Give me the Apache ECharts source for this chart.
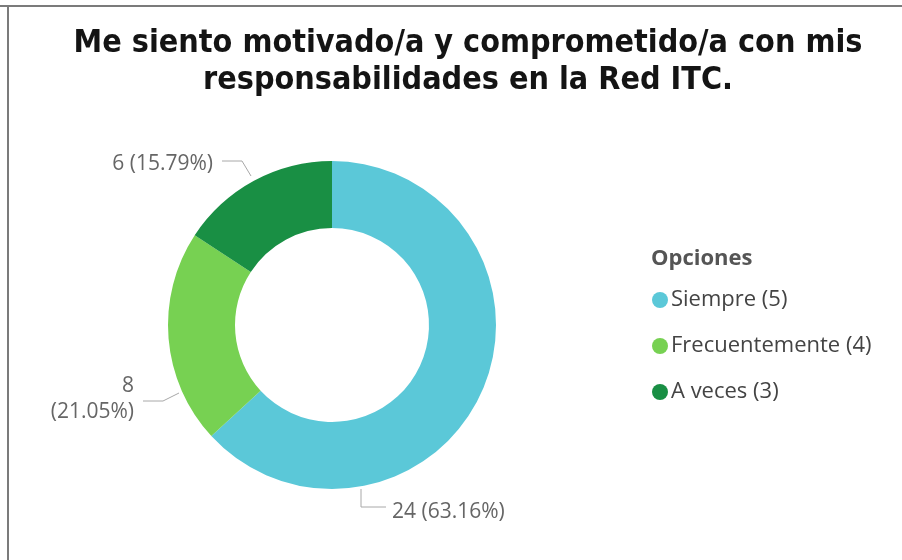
<!DOCTYPE html>
<html>
<head>
<meta charset="utf-8">
<script src="https://cdn.jsdelivr.net/npm/echarts@6/dist/echarts.min.js"></script>
<style>
  html, body { margin: 0; padding: 0; background: #fff; }
  #chart { width: 902px; height: 560px; }
</style>
</head>
<body>
<div id="chart"></div>
<script>
// Survey answers: "Me siento motivado/a y comprometido/a..."
const categories = ['Siempre (5)', 'Frecuentemente (4)', 'A veces (3)'];
const counts = [24, 8, 6];
const sliceColors = ['#5bc8d8', '#77d152', '#198f44'];

const chart = echarts.init(document.getElementById('chart'), null, { renderer: 'canvas' });

// Where each outside label sits, and the bent leader that joins it to its slice
const labelSpots = [
  { x: 392, y: 512, align: 'left',  line: [[361, 489], [361, 507], [386, 507]] },
  { x: 134, y: 399, align: 'right', line: [[143, 401], [163, 401], [179, 393]] },
  { x: 213, y: 164, align: 'right', line: [[222, 161], [242, 161], [251, 176]] }
];

const option = {
  backgroundColor: '#ffffff',
  title: [
    {
      text: 'Me siento motivado/a y comprometido/a con mis\nresponsabilidades en la Red ITC.',
      left: 463,
      top: 20,
      textAlign: 'center',
      textStyle: {
        fontFamily: '"DejaVu Sans Condensed", "Liberation Sans Narrow", sans-serif',
        fontWeight: 'bold',
        fontSize: 32,
        lineHeight: 37,
        color: '#141414'
      }
    },
    {
      text: 'Opciones',
      left: 646,
      top: 243,
      textStyle: {
        fontFamily: '"Open Sans", "Noto Sans", sans-serif',
        fontWeight: 'bold',
        fontSize: 22,
        color: '#555555'
      }
    }
  ],
  legend: {
    orient: 'vertical',
    left: 647,
    top: 281,
    icon: 'circle',
    itemWidth: 16,
    itemHeight: 16,
    itemGap: 18,
    data: categories,
    textStyle: {
      fontFamily: '"Open Sans", "Noto Sans", sans-serif',
      fontSize: 22,
      lineHeight: 28,
      color: '#444444',
      padding: [0, 0, 0, -2]
    }
  },
  graphic: [
    { type: 'line', shape: { x1: 0, y1: 6, x2: 902, y2: 6 }, style: { stroke: '#7b7b7b', lineWidth: 2 } },
    { type: 'line', shape: { x1: 8, y1: 6, x2: 8, y2: 560 }, style: { stroke: '#7b7b7b', lineWidth: 2 } }
  ],
  series: [
    {
      type: 'pie',
      center: [332, 325],
      radius: [97, 164],
      startAngle: 90,
      clockwise: true,
      percentPrecision: 2,
      avoidLabelOverlap: false,
      data: categories.map((name, i) => ({
        name: name,
        value: counts[i],
        itemStyle: { color: sliceColors[i] }
      })),
      label: {
        show: true,
        position: 'outside',
        fontFamily: '"Open Sans", "Noto Sans", sans-serif',
        fontSize: 21,
        lineHeight: 26,
        color: '#666666',
        formatter: function (p) {
          return p.dataIndex === 1
            ? p.value + '\n(' + p.percent.toFixed(2) + '%)'
            : p.value + ' (' + p.percent.toFixed(2) + '%)';
        }
      },
      labelLine: {
        show: true,
        lineStyle: { color: '#a8a8a8', width: 1 }
      },
      labelLayout: function (params) {
        const s = labelSpots[params.dataIndex];
        return {
          x: s.x,
          y: s.y,
          align: s.align,
          verticalAlign: 'middle',
          labelLinePoints: s.line
        };
      },
      emphasis: { disabled: true }
    }
  ]
};

chart.setOption(option);
</script>
</body>
</html>
